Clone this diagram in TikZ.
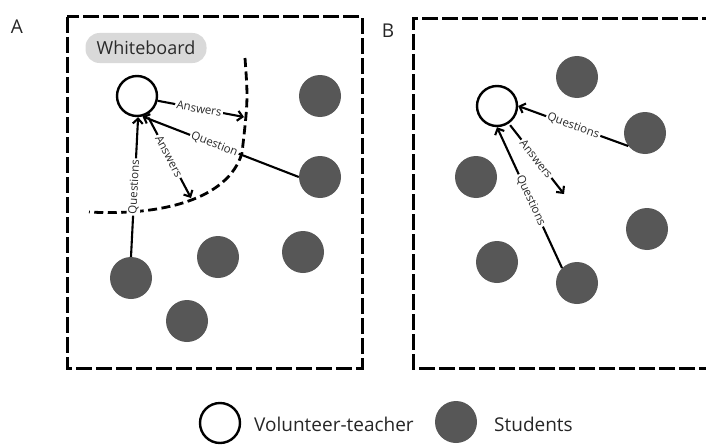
\documentclass[tikz,border=0pt]{standalone}
\usepackage{fontspec}
\setmainfont{Open Sans}
\usetikzlibrary{arrows.meta}
\definecolor{stud}{HTML}{575757}
\definecolor{wbgray}{HTML}{D9D9D9}
\definecolor{lbl}{HTML}{2A2A2A}
\begin{document}
\begin{tikzpicture}[x=1pt,y=-1pt,
  teacher/.style={circle,draw=black,line width=2.4pt,fill=white,minimum size=40pt,inner sep=0pt},
  student/.style={circle,fill=stud,minimum size=42pt,inner sep=0pt},
  frame/.style={line width=3pt,dash pattern=on 16pt off 4pt},
  boundary/.style={line width=2.8pt,dash pattern=on 9pt off 4.5pt},
  conn/.style={line width=2.1pt,-{Straight Barb[length=5pt,width=10pt]}},
  lab/.style={font=\fontsize{11.5}{11.5}\selectfont,text=lbl,fill=white,inner sep=1.5pt,sloped},
  big/.style={font=\fontsize{19}{19}\selectfont,text=black!85},
]
\useasboundingbox (0,0) rectangle (706,444);

% panel labels
\node[big] (labA) at (17,27) {A};
\node[big] (labB) at (388,31) {B};

% frames
\draw[frame] (67,17) rectangle (362,368);
\draw[frame] (718,19) -- (413,19) -- (413,368) -- (718,368);

% ---------- Panel A ----------
\node[fill=wbgray,rounded corners=14pt,minimum width=121pt,minimum height=30pt,inner sep=0pt,
      font=\fontsize{18}{18}\selectfont,text=lbl] (wb) at (146,48) {Whiteboard};

\draw[boundary] (245,58) .. controls (248,100) .. (242,153)
  .. controls (228,200) and (160,216) .. (89,212);

\node[teacher] (tA) at (137,96) {};
\node[student] (sA1) at (320,96) {};
\node[student] (sA2) at (320,177) {};
\node[student] (sA3) at (131,278) {};
\node[student] (sA4) at (218,257) {};
\node[student] (sA5) at (303,252) {};
\node[student] (sA6) at (187,321) {};

\coordinate (ansA1) at (244,117);
\coordinate (ansA2) at (191,198);

\draw[conn] (tA.-13) -- node[lab,pos=0.48] {Answers} (ansA1);
\draw[conn] (sA2.west) -- node[lab,pos=0.54] {Question} (tA.-75);
\draw[conn,shorten <=3pt] (tA.-62) -- node[lab,pos=0.5] {Answers} (ansA2);
\draw[conn] (sA3.north) -- node[lab,pos=0.5] {Questions} (tA.-87);

% ---------- Panel B ----------
\node[teacher] (tB) at (497,106) {};
\node[student] (sB1) at (577,77) {};
\node[student] (sB2) at (645,133) {};
\node[student] (sB3) at (476,177) {};
\node[student] (sB4) at (647,229) {};
\node[student] (sB5) at (497,262) {};
\node[student] (sB6) at (577,283) {};

\coordinate (ansB) at (564,194);

\draw[conn] (sB2.218) -- node[lab,pos=0.5] {Questions} (tB.east);
\draw[conn,shorten <=2pt] (tB.-56) -- node[lab,pos=0.5] {Answers} (ansB);
\draw[conn] (sB6.135) -- node[lab,pos=0.48] {Questions} (tB.south);

% ---------- Legend ----------
\node[teacher] (legT) at (220,423) {};
\node[big,anchor=west,inner sep=0pt] (legTt) at (254,424) {Volunteer-teacher};
\node[student] (legS) at (456,422) {};
\node[big,anchor=west,inner sep=0pt] (legSt) at (494,424) {Students};
\end{tikzpicture}
\end{document}
